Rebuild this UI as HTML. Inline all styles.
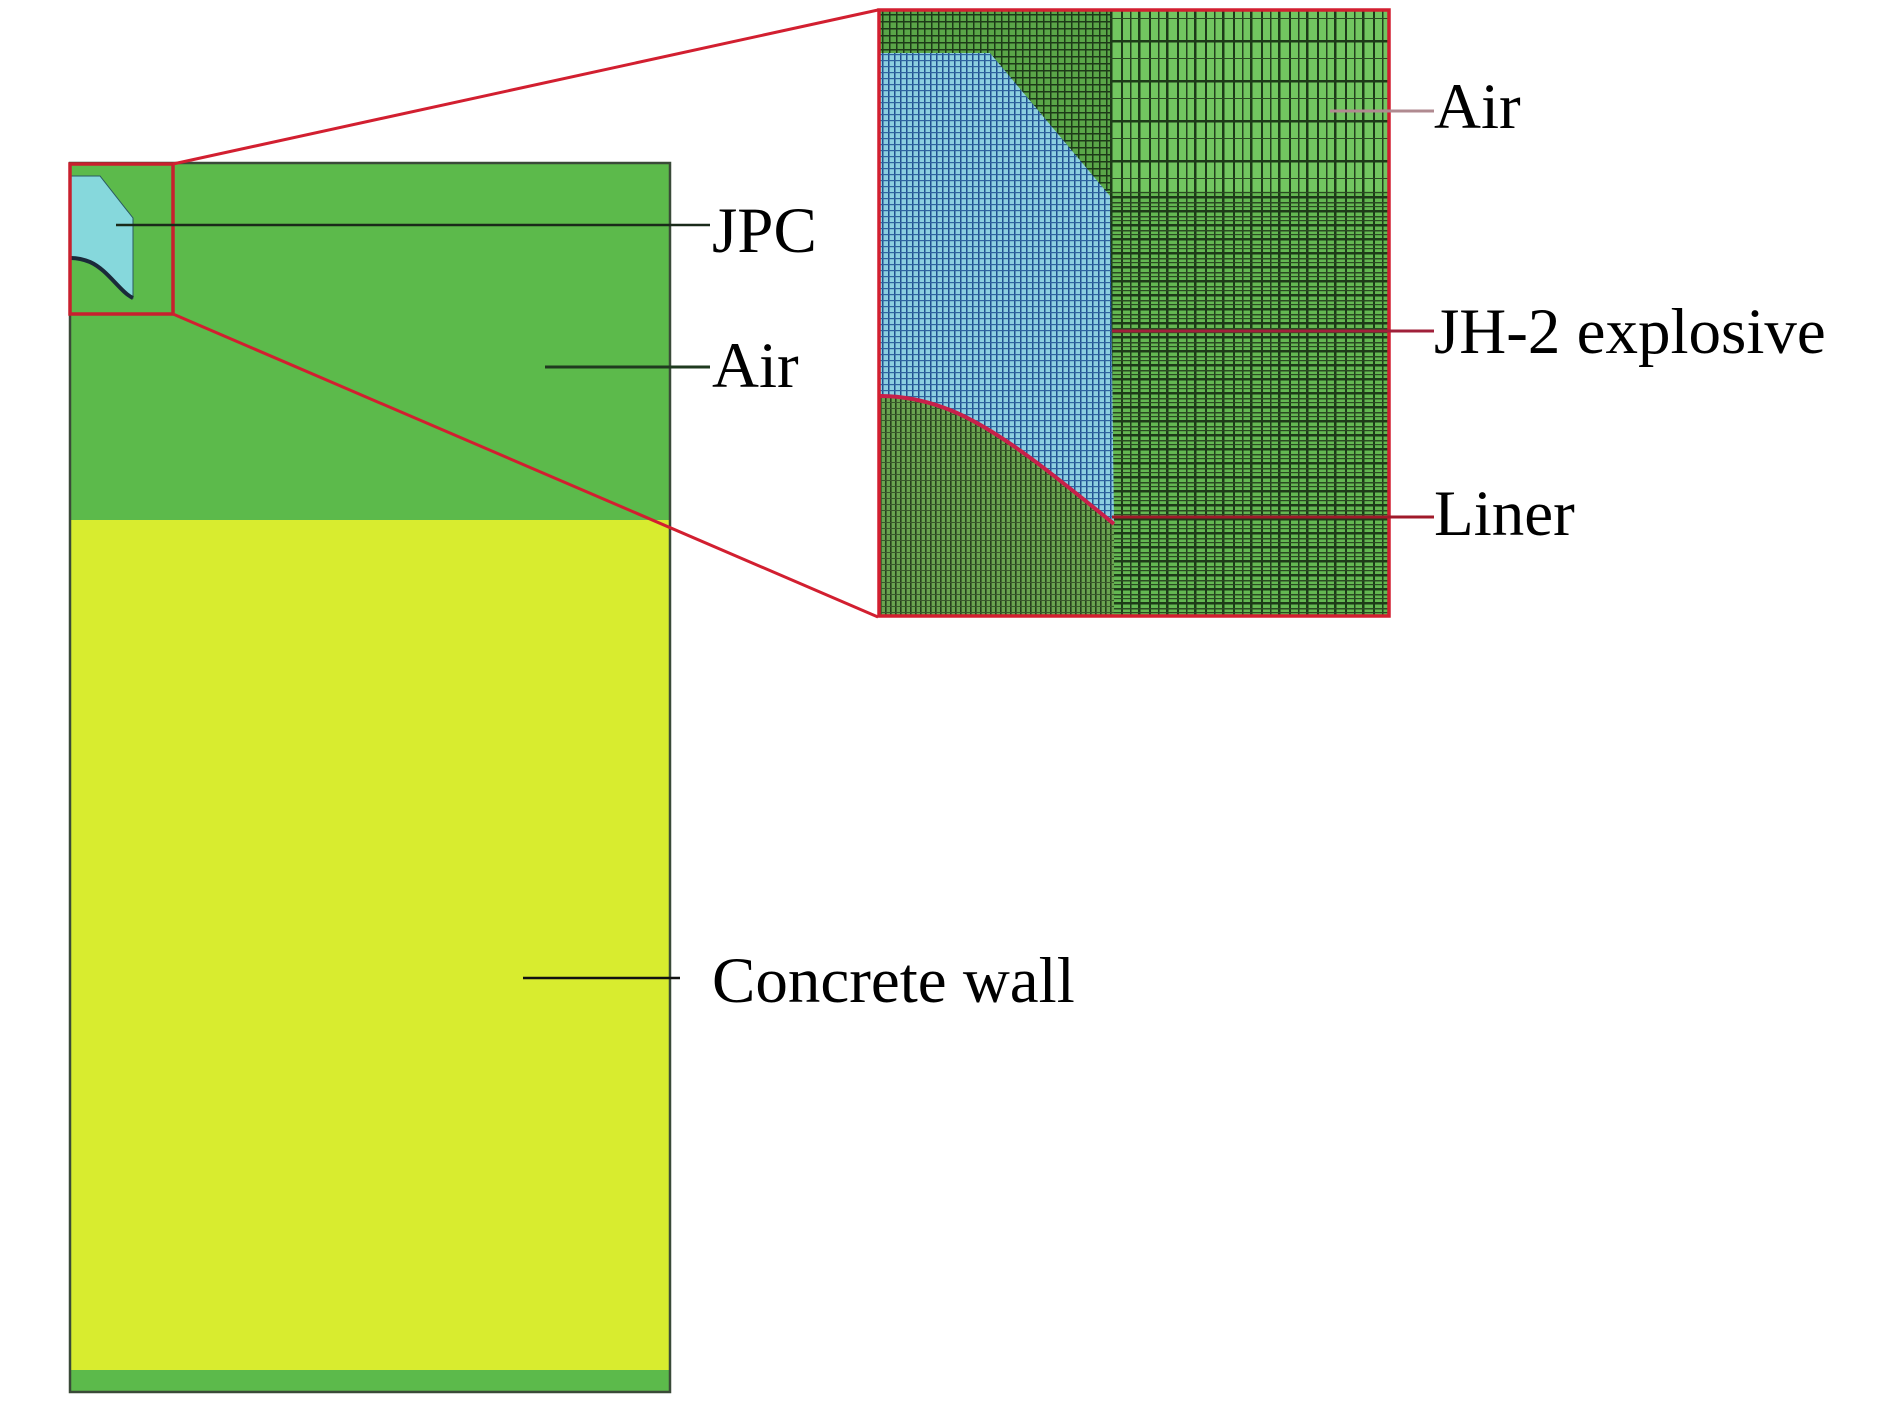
<!DOCTYPE html>
<html><head><meta charset="utf-8"><style>
html,body{margin:0;padding:0;background:#fff;}
svg{display:block}
text{font-family:"Liberation Serif",serif;fill:#000}
</style></head><body>
<svg width="1890" height="1402" viewBox="0 0 1890 1402" xmlns="http://www.w3.org/2000/svg">
<defs>
<pattern id="gR" x="1110" y="0" width="28" height="14" patternUnits="userSpaceOnUse">
<rect width="28" height="14" fill="#64b852"/>
<rect x="0" width="2.5" height="14" fill="#1d3a18"/><rect x="11" width="2" height="14" fill="#1d3a18"/><rect x="20" width="1.5" height="14" fill="#24401e"/>
<rect y="0" width="28" height="2.5" fill="#1d3a18"/><rect y="6" width="28" height="1.5" fill="#2a4a22"/><rect y="10" width="28" height="1.2" fill="#2a4a22"/>
</pattern>
<pattern id="gRt" x="1110" y="0" width="28" height="40" patternUnits="userSpaceOnUse">
<rect width="28" height="40" fill="#72c660"/>
<rect x="0" width="2.5" height="40" fill="#1d3a18"/><rect x="11" width="2" height="40" fill="#1d3a18"/><rect x="20" width="1.5" height="40" fill="#24401e"/>
<rect y="0" width="28" height="2.5" fill="#1d3a18"/><rect y="18" width="28" height="1" fill="#2a4a22"/>
</pattern>
<pattern id="gB" x="0" y="0" width="6" height="6" patternUnits="userSpaceOnUse">
<rect width="6" height="6" fill="#8ccfe0"/>
<rect x="0" width="1.5" height="6" fill="#1f4f8f"/><rect y="0" width="6" height="1.2" fill="#2f63a0"/>
</pattern>
<pattern id="gL" x="0" y="0" width="5" height="6" patternUnits="userSpaceOnUse">
<rect width="5" height="6" fill="#6aa450"/>
<rect x="0" width="1.6" height="6" fill="#26401c"/><rect y="0" width="5" height="1" fill="#3a5a2c"/>
</pattern>
<pattern id="gT" x="0" y="0" width="7" height="7" patternUnits="userSpaceOnUse">
<rect width="7" height="7" fill="#5aa648"/>
<rect x="0" width="1.5" height="7" fill="#1d3a18"/><rect y="0" width="7" height="1.5" fill="#1d3a18"/>
</pattern>
</defs>

<rect x="70" y="163" width="600" height="357" fill="#5cba4b"/>
<rect x="70" y="520" width="600" height="850" fill="#d8ec2f"/>
<rect x="70" y="1370" width="600" height="22" fill="#5cba4b"/>
<rect x="70" y="163" width="600" height="1229" fill="none" stroke="#3a4a38" stroke-width="2.5"/>
<path d="M71,176 L100,176 L133,218 L133,298 C120,292 108,270 90,262 Q80,258 71,258 Z" fill="#86d8dc" stroke="#2a5a60" stroke-width="1"/>
<path d="M71,258 Q80,258 90,262 C108,270 120,292 133,298" fill="none" stroke="#1a2a3a" stroke-width="4"/>
<rect x="70" y="164" width="103" height="150" fill="none" stroke="#c8202e" stroke-width="3.5"/>
<line x1="173" y1="164" x2="878" y2="10" stroke="#d21f30" stroke-width="3"/>
<line x1="173" y1="314" x2="878" y2="617" stroke="#d21f30" stroke-width="3"/>

<rect x="880" y="11" width="508" height="604" fill="url(#gR)"/>
<rect x="1110" y="11" width="278" height="180" fill="url(#gRt)"/>
<rect x="880" y="11" width="230" height="180" fill="url(#gT)"/>
<path d="M880,53 L990,53 L1110,196 L1114,524 C1060,480 1000,430 950,410 Q915,396 880,396 Z" fill="url(#gB)"/>
<path d="M880,396 Q915,396 950,410 C1000,430 1060,480 1114,524 L1114,615 L880,615 Z" fill="url(#gL)"/>
<path d="M880,396 Q915,396 950,410 C1000,430 1060,480 1114,524" fill="none" stroke="#c8204a" stroke-width="4"/>
<rect x="879" y="10" width="510" height="606" fill="none" stroke="#d21f30" stroke-width="3.5"/>

<line x1="116" y1="225" x2="710" y2="225" stroke="#1a2a1a" stroke-width="2.5"/>
<line x1="545" y1="367" x2="710" y2="367" stroke="#1f3a1f" stroke-width="3"/>
<line x1="523" y1="978" x2="680" y2="978" stroke="#111" stroke-width="2.5"/>
<text x="712" y="252" font-size="65">JPC</text>
<text x="712" y="387" font-size="65">Air</text>
<text x="712" y="1002" font-size="65">Concrete wall</text>

<line x1="1330" y1="111" x2="1434" y2="111" stroke="#b08a90" stroke-width="3"/>
<line x1="1112" y1="331" x2="1434" y2="331" stroke="#a0203a" stroke-width="3"/>
<line x1="1112" y1="517" x2="1434" y2="517" stroke="#a01a2a" stroke-width="3"/>
<text x="1434" y="128" font-size="65">Air</text>
<text x="1434" y="353" font-size="65">JH-2 explosive</text>
<text x="1434" y="535" font-size="65">Liner</text>
</svg>
</body></html>
